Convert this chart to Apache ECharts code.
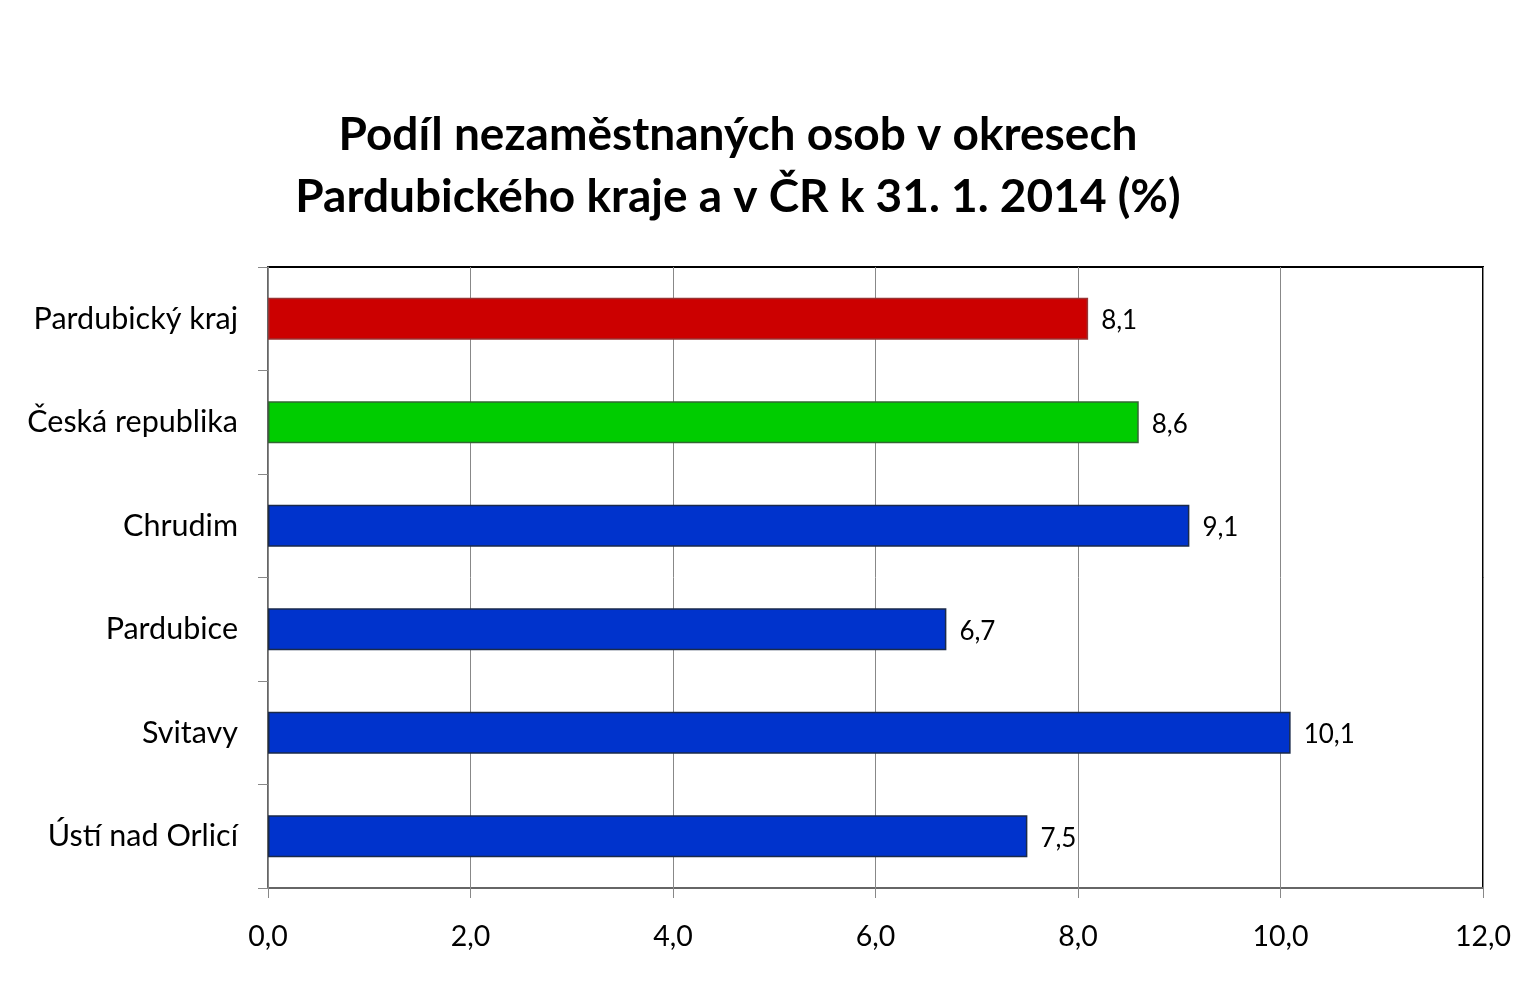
<!DOCTYPE html>
<html><head><meta charset="utf-8">
<script src="https://cdn.jsdelivr.net/npm/echarts@6/dist/echarts.min.js"></script>
<style>html,body{margin:0;padding:0;background:#fff}#c{width:1526px;height:986px}</style>
</head><body><div id="c"></div>
<script>
const categories = ["Pardubický kraj", "Česká republika", "Chrudim", "Pardubice", "Svitavy", "Ústí nad Orlicí"];
const values = [8.1, 8.6, 9.1, 6.7, 10.1, 7.5];
const barColors = ["#CC0000", "#00CC00", "#0033CC", "#0033CC", "#0033CC", "#0033CC"];
const barBorders = ["#993333", "#336633", "#1A2A4A", "#1A2A4A", "#1A2A4A", "#1A2A4A"];
const xTicks = [0, 2, 4, 6, 8, 10, 12];

const FONT = "Lato, 'Open Sans', sans-serif";
const fmt = v => v.toFixed(1).replace('.', ',');
const chart = echarts.init(document.getElementById('c'));
chart.setOption({
  animation: false,
  title: {
    text: "Podíl nezaměstnaných osob v okresech\nPardubického kraje a v ČR k 31. 1. 2014 (%)",
    left: 733, top: 99, textAlign: 'center',
    textStyle: {fontFamily: FONT, fontSize: 46, fontWeight: 'bold', color: '#000', lineHeight: 62}
  },
  grid: {left: 268, right: 43, top: 267, bottom: 98, show: true, borderColor: '#000', borderWidth: 2, backgroundColor: 'transparent'},
  xAxis: {
    type: 'value', min: xTicks[0], max: xTicks[xTicks.length-1], interval: 2,
    axisLine: {show: true, lineStyle: {color: '#888', width: 1.5}},
    axisTick: {show: true, length: 10, lineStyle: {color: '#888'}},
    splitLine: {show: true, lineStyle: {color: '#888', width: 1}},
    axisLabel: {formatter: fmt, fontFamily: FONT, fontSize: 28.5, color: '#000', margin: 34}
  },
  yAxis: {
    type: 'category', data: categories, inverse: true,
    axisLine: {show: true, lineStyle: {color: '#888', width: 1.5}},
    axisTick: {show: true, length: 10, lineStyle: {color: '#888'}},
    axisLabel: {fontFamily: FONT, fontSize: 30.5, color: '#000', margin: 30}
  },
  series: [{
    type: 'bar', barWidth: 42,
    data: values.map((v, i) => ({value: v, itemStyle: {color: barColors[i], borderColor: barBorders[i], borderWidth: 1.5}})),
    label: {show: true, position: 'right', distance: 13, formatter: p => fmt(p.value), fontFamily: FONT, fontSize: 26, color: '#000', offset: [0, 2]}
  }]
});
</script></body></html>
